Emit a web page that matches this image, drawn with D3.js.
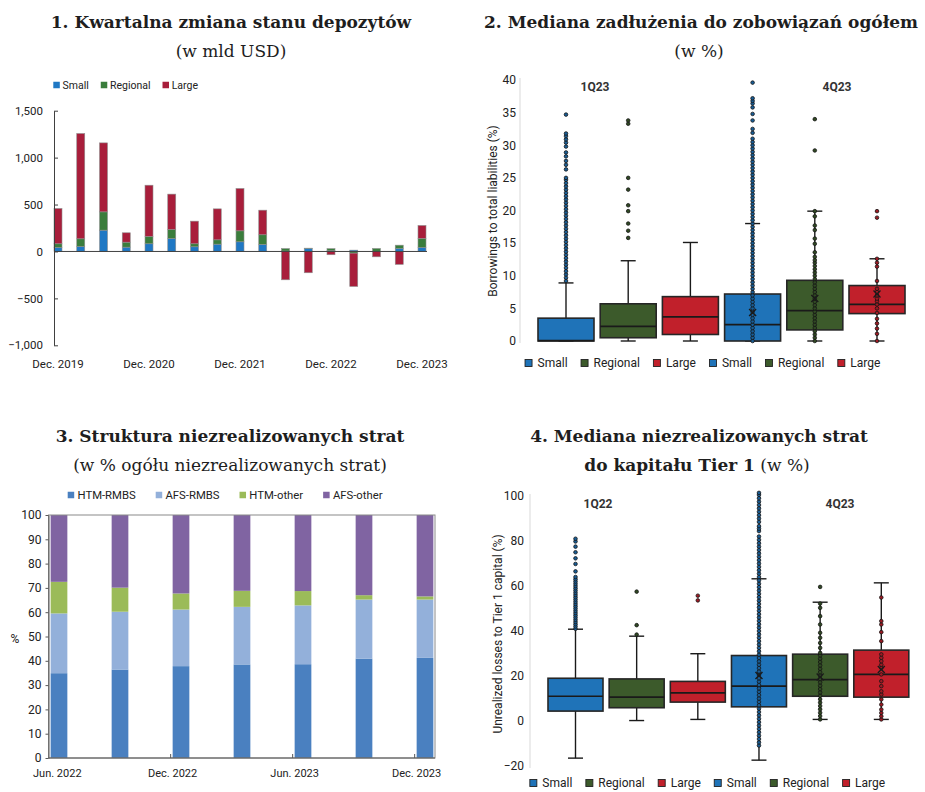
<!DOCTYPE html>
<html>
<head>
<meta charset="utf-8">
<script src="https://cdn.jsdelivr.net/npm/d3@7"></script>
<style>
  body { margin: 0; background: #fff; }
  svg { display: block; font-family: Roboto, "Open Sans", sans-serif; }
  .title { font-family: "DejaVu Serif", serif; font-size: 17px; fill: #1e1e1e; text-anchor: middle; }
</style>
</head>
<body>
<svg id="chart" width="925" height="792"></svg>
<script>
// ---------- data ----------
// 1. quarterly change in deposits (bn USD)
const quarters = ["Dec. 2019", "Mar. 2020", "Jun. 2020", "Sep. 2020", "Dec. 2020", "Mar. 2021", "Jun. 2021", "Sep. 2021",
    "Dec. 2021", "Mar. 2022", "Jun. 2022", "Sep. 2022", "Dec. 2022", "Mar. 2023", "Jun. 2023", "Sep. 2023", "Dec. 2023"];
const depKeys = ["Small", "Regional", "Large"];
const depSmall = [43, 53, 227, 46, 82, 138, 50, 78, 103, 75, 5, 32, 8, 14, 2, 32, 43];
const depRegional = [39, 82, 195, 53, 78, 96, 32, 46, 117, 103, 26, 3, 22, -18, 30, 35, 96];
const depLarge = [376, 1122, 735, 100, 546, 377, 241, 330, 451, 262, -302, -227, -35, -355, -57, -138, 138];
const depTicks = [-1000, -500, 0, 500, 1000, 1500];
const depLabels = ["Dec. 2019", "Dec. 2020", "Dec. 2021", "Dec. 2022", "Dec. 2023"];

// 2. borrowings to total liabilities (%), boxes: 1Q23 S/R/L, 4Q23 S/R/L
const boxNames = ["Small", "Regional", "Large", "Small", "Regional", "Large"];
const borQ1 = [0, 0.5, 1.0, 0, 1.7, 4.2];
const borMedian = [0.05, 2.25, 3.7, 2.5, 4.65, 5.6];
const borQ3 = [3.5, 5.7, 6.8, 7.2, 9.3, 8.5];
const borLow = [0, 0, 0, 0, 0, 0];
const borHigh = [8.9, 12.3, 15.1, 18.0, 19.9, 12.6];
const borMean = [null, null, null, 4.35, 6.5, 7.2];
const borDots = [
    [9.2, 9.7, 10.2, 10.7, 11.2, 11.7, 12.2, 12.7, 13.2, 13.7, 14.2, 14.7, 15.2, 15.7, 16.2, 16.7, 17.2, 17.7, 18.2, 18.7,
        19.2, 19.7, 20.2, 20.7, 21.2, 21.7, 22.2, 22.7, 23.2, 23.7, 24.2, 24.7, 25.0, 26.3, 27.0, 27.6, 28.3, 28.9, 29.8,
        30.4, 30.9, 31.4, 31.8, 34.7],
    [15.8, 16.9, 18.0, 19.9, 20.8, 23.2, 25.0, 33.3, 33.8],
    [],
    [0, 0.5, 1, 1.5, 2, 2.5, 3, 3.5, 4, 4.5, 5, 5.5, 6, 6.5, 7, 7.5, 8, 8.5, 9, 9.5, 10, 10.5, 11, 11.5, 12, 12.5, 13, 13.5,
        14, 14.5, 15, 15.5, 16, 16.5, 17, 17.5, 18, 18.5, 19, 19.5, 20, 20.5, 21, 21.5, 22, 22.5, 23, 23.5, 24, 24.5, 25,
        25.5, 26, 26.5, 27, 27.5, 28, 28.5, 29, 29.5, 30, 30.5, 31, 31.9, 32.5, 33.8, 34.8, 35.8, 36.4, 36.8, 37.2, 39.6],
    [0, 0.5, 1, 1.5, 2, 2.5, 3, 3.5, 4, 4.5, 5, 5.5, 6, 6.5, 7, 7.5, 8, 8.5, 9, 9.5, 10, 10.5, 11, 11.5, 12, 12.4, 12.9,
        13.6, 14.9, 15.7, 17.0, 17.7, 19.1, 19.9, 29.2, 34.0],
    [0, 1.1, 1.9, 2.7, 3.4, 4.3, 5.0, 5.6, 6.1, 6.5, 7.0, 7.5, 8.0, 9.2, 11.4, 12.0, 12.6, 18.9, 19.9]
];
const borTicks = [0, 5, 10, 15, 20, 25, 30, 35, 40];

// 3. structure of unrealized losses (% of total)
const lossQuarters = ["Jun. 2022", "Sep. 2022", "Dec. 2022", "Mar. 2023", "Jun. 2023", "Sep. 2023", "Dec. 2023"];
const lossKeys = ["HTM-RMBS", "AFS-RMBS", "HTM-other", "AFS-other"];
const htmRmbs = [34.9, 36.4, 37.8, 38.5, 38.6, 40.9, 41.2];
const afsRmbs = [24.6, 23.8, 23.3, 23.7, 24.2, 24.3, 24.0];
const htmOther = [13.0, 9.9, 6.6, 6.6, 5.9, 1.8, 1.3];
const afsOther = [27.5, 29.9, 32.3, 31.2, 31.3, 33.0, 33.5];
const lossTicks = [0, 10, 20, 30, 40, 50, 60, 70, 80, 90, 100];
const lossLabels = ["Jun. 2022", "Dec. 2022", "Jun. 2023", "Dec. 2023"];

// 4. unrealized losses to Tier 1 capital (%), boxes: 1Q22 S/R/L, 4Q23 S/R/L
const ulQ1 = [4.4, 5.9, 8.4, 6.3, 11.0, 10.6];
const ulMedian = [11.0, 10.6, 12.5, 15.5, 18.4, 20.7];
const ulQ3 = [19.0, 18.7, 17.6, 29.1, 29.7, 31.5];
const ulLow = [-16.5, 0.2, 0.7, -17.4, 0.7, 0.7];
const ulHigh = [40.8, 37.7, 29.9, 63.2, 52.8, 61.4];
const ulMean = [null, null, null, 20.2, 19.6, 22.9];
const ulDots = [
    [41, 42, 43, 44, 45, 46, 47, 48, 49, 50, 51, 52, 53, 54, 55, 56, 57, 58, 59, 60, 61, 62, 63, 64,
        66.5, 69.8, 72.3, 75, 77.5, 79.8, 81],
    [38.4, 42.6, 57.5],
    [53.6, 55.7],
    [-10.9, -9.5, -8, -6.5, -5, -3.5, -2, -0.5, 1, 2.5, 4, 5.5, 7, 8.5, 10, 11.5, 13, 14.5, 16, 17.5, 19, 20.5, 22, 23.5,
        25, 26.5, 28, 29.5, 31, 32.5, 34, 35.5, 37, 38.5, 40, 41.5, 43, 44.5, 46, 47.5, 49, 50.5, 52, 53.5, 55, 56.5, 58,
        59.5, 61, 62.5, 64, 65.5, 67, 68.5, 70, 71.5, 73, 74.5, 76, 77.5, 79, 80.5, 82, 84.4, 85.5, 86.6, 88.5, 90, 91.5,
        93, 94.5, 96, 97.5, 99, 100.5, 101.4],
    [0.7, 2.2, 3.7, 5.2, 6.7, 8.2, 9.7, 11.2, 12.7, 14.2, 15.7, 17.2, 18.7, 20.2, 21.7, 23.2, 24.7, 26.2, 27.7, 29.2,
        30.3, 32.5, 34.7, 37, 39.2, 42.9, 46.6, 50.3, 52.2, 59.6],
    [0.7, 2.1, 3.6, 5.1, 7.3, 9.6, 11.8, 13.2, 15.5, 17.7, 20.7, 23.6, 25, 26.6, 28.1, 29.6, 35.5, 39.5, 42.9, 44.4, 54.9]
];
const ulTicks = [-20, 0, 20, 40, 60, 80, 100];

// colours
const depColors = ["#1f78c4", "#3a7d3c", "#a81e3b"];
const boxColors = ["#1f73b8", "#3c5a2b", "#c1202b"];
const lossColors = ["#4a80c0", "#93b0da", "#9bbb59", "#8064a2"];

const svg = d3.select("#chart");

// ---------- helpers ----------
function legend(g, names, colors, o) {
    const items = g.append("g").attr("font-size", o.fontSize).attr("fill", "#222");
    let cx = 0;
    names.forEach((n, i) => {
        const it = items.append("g").attr("transform", `translate(${cx},0)`);
        it.append("rect").attr("y", -o.size / 2).attr("width", o.size).attr("height", o.size)
            .attr("fill", colors[i % colors.length])
            .attr("stroke", o.stroke || "none").attr("stroke-width", 0.9);
        const t = it.append("text").attr("x", o.size + o.gap).attr("dy", "0.35em").text(n);
        cx += o.size + o.gap + t.node().getComputedTextLength() + o.pad;
    });
    const w = cx - o.pad;
    const x0 = o.center != null ? o.center - w / 2 : o.x;
    items.attr("transform", `translate(${x0},${o.y})`);
}

function styleAxis(a, size) {
    a.attr("font-family", null).attr("font-size", size);
    a.selectAll("text").attr("fill", "#222");
}

function title(lines) {
    lines.forEach(l => {
        const t = svg.append("text").attr("class", "title").attr("x", l.x).attr("y", l.y);
        l.parts.forEach(p => t.append("tspan").attr("font-weight", p.bold ? "bold" : "normal").text(p.t));
    });
}

// ---------- 1. deposits ----------
(function () {
    const g = svg.append("g");
    const x = d3.scalePoint().domain(quarters).range([58, 422]);
    const y = d3.scaleLinear().domain([-1000, 1500]).range([345.3, 110.7]);
    const rows = quarters.map((q, i) => ({ q, Small: depSmall[i], Regional: depRegional[i], Large: depLarge[i] }));
    const series = d3.stack().keys(depKeys).offset(d3.stackOffsetDiverging)(rows);

    g.selectAll("g.s").data(series).join("g").attr("fill", (d, i) => depColors[i])
        .selectAll("rect").data(d => d.filter(p => p[0] !== p[1])).join("rect")
        .attr("x", d => x(d.data.q) - 4).attr("width", 8)
        .attr("y", d => y(Math.max(d[0], d[1])))
        .attr("height", d => Math.abs(y(d[0]) - y(d[1])))
        .attr("stroke", "#8f8f8f").attr("stroke-width", 0.6);

    const ya = g.append("g").attr("transform", "translate(54,0)")
        .call(d3.axisLeft(y).tickValues(depTicks).tickFormat(d3.format(","))
            .tickSizeInner(-4).tickSizeOuter(0).tickPadding(11));
    styleAxis(ya, 11.5);
    ya.selectAll("path,line").attr("stroke", "#404040");

    g.append("line").attr("x1", 54).attr("x2", 427).attr("y1", y(0)).attr("y2", y(0))
        .attr("stroke", "#404040");
    g.selectAll("text.xl").data(depLabels).join("text").attr("class", "xl")
        .attr("x", d => x(d)).attr("y", 368).attr("text-anchor", "middle")
        .attr("font-size", 11.5).attr("fill", "#222").text(d => d);

    legend(g, depKeys, depColors, { x: 53.3, y: 85, size: 6.5, gap: 2.7, pad: 12, fontSize: 10.5 });
})();

// ---------- box panels (2 and 4) ----------
function boxPanel(o) {
    const g = svg.append("g");
    const keys = boxNames.map((n, i) => i);
    const x = d3.scalePoint().domain(keys).range(o.xRange);
    const y = d3.scaleLinear().domain(o.domain).range(o.yRange);
    const bw = o.boxWidth, cap = 15;

    g.append("line").attr("x1", o.axisX).attr("x2", o.axisX)
        .attr("y1", o.yRange[1] - 2).attr("y2", o.yRange[0] + 2).attr("stroke", "#d9d9d9");
    const ya = g.append("g").attr("transform", `translate(${o.axisX},0)`)
        .call(d3.axisLeft(y).tickValues(o.ticks).tickSize(0).tickPadding(o.tickPad));
    styleAxis(ya, 12);
    ya.select(".domain").remove();

    g.append("text").attr("transform", `translate(${o.titleX},${o.titleY}) rotate(-90)`)
        .attr("text-anchor", "middle").attr("dy", "0.35em").attr("font-size", 12).attr("fill", "#222")
        .text(o.yTitle);

    const box = g.selectAll("g.box").data(keys).join("g").attr("class", "box")
        .attr("transform", i => `translate(${x(i)},0)`);
    // whiskers
    box.append("line").attr("y1", i => y(o.low[i])).attr("y2", i => y(o.high[i]))
        .attr("stroke", "#1a1a1a").attr("stroke-width", 1.4);
    box.append("line").attr("x1", -cap / 2).attr("x2", cap / 2)
        .attr("y1", i => y(o.high[i])).attr("y2", i => y(o.high[i]))
        .attr("stroke", "#1a1a1a").attr("stroke-width", 1.4);
    box.append("line").attr("x1", -cap / 2).attr("x2", cap / 2)
        .attr("y1", i => y(o.low[i])).attr("y2", i => y(o.low[i]))
        .attr("stroke", "#1a1a1a").attr("stroke-width", 1.4);
    // box + median
    box.append("rect").attr("x", -bw / 2).attr("width", bw)
        .attr("y", i => y(o.q3[i])).attr("height", i => y(o.q1[i]) - y(o.q3[i]))
        .attr("fill", i => boxColors[i % 3]).attr("stroke", "#262626").attr("stroke-width", 1.6);
    box.append("line").attr("x1", -bw / 2).attr("x2", bw / 2)
        .attr("y1", i => y(o.median[i])).attr("y2", i => y(o.median[i]))
        .attr("stroke", "#1a1a1a").attr("stroke-width", 1.7);
    // individual points
    box.each(function (i) {
        d3.select(this).selectAll("circle").data(o.dots[i]).join("circle")
            .attr("cy", v => y(v)).attr("r", 1.8)
            .attr("fill", d3.color(boxColors[i % 3]).darker(0.6))
            .attr("stroke", "#151515").attr("stroke-width", 0.8);
    });
    // mean markers
    box.filter(i => o.mean[i] != null).append("path")
        .attr("d", i => {
            const m = y(o.mean[i]), s = 3.5;
            return `M${-s},${m - s}L${s},${m + s}M${-s},${m + s}L${s},${m - s}`;
        })
        .attr("stroke", "#1a1a1a").attr("stroke-width", 1.4).attr("fill", "none");

    o.groupLabels.forEach(l => {
        g.append("text").attr("x", l.x).attr("y", l.y).attr("text-anchor", "middle")
            .attr("font-size", 12).attr("font-weight", "bold").attr("fill", "#333").text(l.t);
    });

    legend(g, boxNames, boxColors, { center: o.legendX, y: o.legendY, size: 7, gap: 5.5, pad: 13.5, fontSize: 12, stroke: "#222" });
}

boxPanel({
    domain: [0, 40], yRange: [341, 80], xRange: [566, 877], boxWidth: 56, axisX: 520, tickPad: 4,
    ticks: borTicks, q1: borQ1, median: borMedian, q3: borQ3, low: borLow, high: borHigh, mean: borMean, dots: borDots,
    yTitle: "Borrowings to total liabilities (%)", titleX: 493, titleY: 211,
    groupLabels: [{ t: "1Q23", x: 595, y: 91 }, { t: "4Q23", x: 837, y: 91 }],
    legendX: 702.7, legendY: 363
});

boxPanel({
    domain: [-20, 100], yRange: [766, 496], xRange: [575.5, 881.3], boxWidth: 55, axisX: 530, tickPad: 6,
    ticks: ulTicks, q1: ulQ1, median: ulMedian, q3: ulQ3, low: ulLow, high: ulHigh, mean: ulMean, dots: ulDots,
    yTitle: "Unrealized losses to Tier 1 capital (%)", titleX: 498, titleY: 634,
    groupLabels: [{ t: "1Q22", x: 598, y: 508 }, { t: "4Q23", x: 840, y: 508 }],
    legendX: 707.5, legendY: 783
});

// ---------- 3. unrealized losses structure ----------
(function () {
    const g = svg.append("g");
    const x = d3.scalePoint().domain(lossQuarters).range([59, 425]);
    const y = d3.scaleLinear().domain([0, 100]).range([758, 515]);
    const bw = 16.7;
    const rows = lossQuarters.map((q, i) => ({
        q, "HTM-RMBS": htmRmbs[i], "AFS-RMBS": afsRmbs[i], "HTM-other": htmOther[i], "AFS-other": afsOther[i]
    }));
    const series = d3.stack().keys(lossKeys)(rows);

    g.selectAll("g.s").data(series).join("g").attr("fill", (d, i) => lossColors[i])
        .selectAll("rect").data(d => d).join("rect")
        .attr("x", d => x(d.data.q) - bw / 2).attr("width", bw)
        .attr("y", d => y(d[1])).attr("height", d => y(d[0]) - y(d[1]));

    g.append("rect").attr("x", 48.5).attr("y", 515).attr("width", 386.5).attr("height", 243)
        .attr("fill", "none").attr("stroke", "#8a8a8a");

    const ya = g.append("g").attr("transform", "translate(48.5,0)")
        .call(d3.axisLeft(y).tickValues(lossTicks).tickSizeInner(3).tickSizeOuter(0).tickPadding(4));
    styleAxis(ya, 12);
    ya.selectAll("path,line").attr("stroke", "#595959");
    g.append("line").attr("x1", 48.5).attr("x2", 435).attr("y1", 758).attr("y2", 758).attr("stroke", "#595959");

    g.selectAll("line.xt").data(lossLabels.slice(1)).join("line").attr("class", "xt")
        .attr("x1", d => x(d) - bw / 2 - 2).attr("x2", d => x(d) - bw / 2 - 2)
        .attr("y1", 754).attr("y2", 758).attr("stroke", "#595959");
    g.selectAll("text.xl").data(lossLabels).join("text").attr("class", "xl")
        .attr("x", (d, i) => i === 0 ? 33 : x(d) - bw / 2)
        .attr("text-anchor", (d, i) => i === 0 ? "start" : "middle")
        .attr("y", 776.5).attr("font-size", 11).attr("fill", "#222").text(d => d);

    g.append("text").attr("x", 15).attr("y", 639).attr("dy", "0.35em").attr("text-anchor", "middle")
        .attr("font-size", 12).attr("fill", "#222").text("%");

    legend(g, lossKeys, lossColors, { x: 67.7, y: 495, size: 6.5, gap: 3.3, pad: 20, fontSize: 11.3 });
})();

// ---------- titles ----------
title([
    { x: 231, y: 28, parts: [{ t: "1. Kwartalna zmiana stanu depozytów", bold: true }] },
    { x: 231, y: 57, parts: [{ t: "(w mld USD)" }] },
    { x: 701, y: 28, parts: [{ t: "2. Mediana zadłużenia do zobowiązań ogółem", bold: true }] },
    { x: 699, y: 57, parts: [{ t: "(w %)" }] },
    { x: 230, y: 442, parts: [{ t: "3. Struktura niezrealizowanych strat", bold: true }] },
    { x: 230, y: 471, parts: [{ t: "(w % ogółu niezrealizowanych strat)" }] },
    { x: 699, y: 442, parts: [{ t: "4. Mediana niezrealizowanych strat", bold: true }] },
    { x: 697, y: 471, parts: [{ t: "do kapitału Tier 1", bold: true }, { t: " (w %)" }] }
]);
</script>
</body>
</html>
